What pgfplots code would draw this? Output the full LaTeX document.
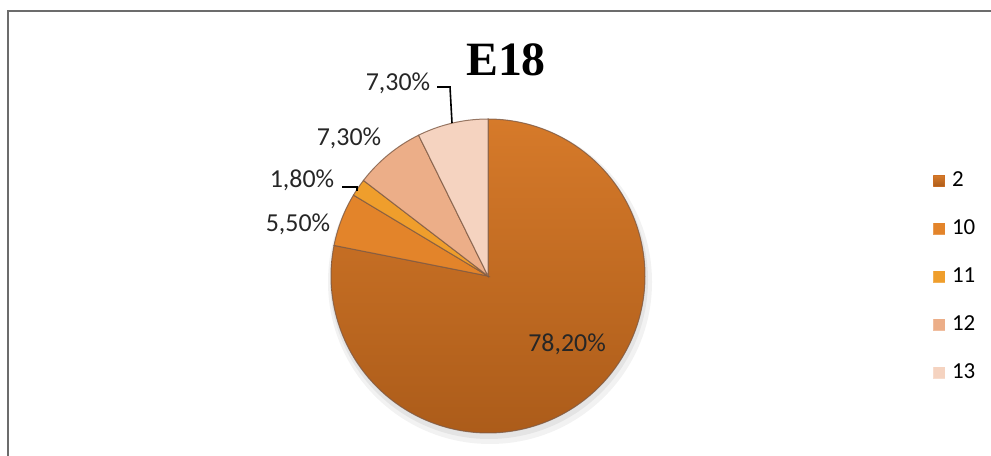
\documentclass[border=0pt]{standalone}
\usepackage{pgfplots}
\pgfplotsset{compat=1.18}
\usepackage{fontspec}
\setmainfont{Carlito}
\newfontfamily\titlefont{Liberation Serif}
\definecolor{cA}{HTML}{CB6D22}
\definecolor{cAtop}{HTML}{D67A2A}
\definecolor{cAbot}{HTML}{AC5C1A}
\definecolor{cB}{HTML}{E3842A}
\definecolor{cC}{HTML}{EF9E2C}
\definecolor{cD}{HTML}{ECAE88}
\definecolor{cE}{HTML}{F5D3C0}
\definecolor{edge}{HTML}{7E5A44}
\tikzset{lbl/.style={text=black!85, inner sep=0pt, font=\fontsize{26}{30}\selectfont}}
\begin{document}
\begin{tikzpicture}
\useasboundingbox (0,0) rectangle (991bp,456bp);
\begin{axis}[
  width=991bp, height=456bp, scale only axis,
  xmin=0, xmax=991, ymin=0, ymax=456,
  hide axis, clip=false,
  legend style={at={(axis cs:933,286)}, anchor=north west, draw=none, fill=none,
    inner sep=0pt, outer sep=0pt, row sep=26bp, column sep=7bp,
    font=\fontsize{23}{27}\selectfont,
    nodes={inner sep=0pt, anchor=west, text height=17bp, text depth=5bp}},
  legend cell align=left,
]
% frame
\draw[gray!85!black, line width=2bp] (axis cs:8,-10) -- (axis cs:8,445) -- (axis cs:1000,445);
% shadow
\fill[black, opacity=0.05] (axis cs:490,174) circle[radius=162bp];
\fill[black, opacity=0.06] (axis cs:489,176) circle[radius=159bp];
% slices (values in percent: 78.2, 5.5, 1.8, 7.3, 7.3; clockwise from top)
\addplot[top color=cAtop, bottom color=cAbot, draw=edge, draw opacity=0.8, line width=1bp,
  domain=0:78.2, samples=160, variable=\t,
  legend image code/.code={\fill[cA] (0bp,-5.5bp) rectangle (11bp,5.5bp);}]
  ({488+157*sin(\t*3.6/1.001)}, {180+157*cos(\t*3.6/1.001)}) -- (axis cs:488,180) -- cycle;
\addlegendentry{2}
\addplot[fill=cB, draw=edge, draw opacity=0.8, line width=1bp,
  domain=78.2:83.7, samples=20, variable=\t,
  legend image code/.code={\fill[cB] (0bp,-5.5bp) rectangle (11bp,5.5bp);}]
  ({488+157*sin(\t*3.6/1.001)}, {180+157*cos(\t*3.6/1.001)}) -- (axis cs:488,180) -- cycle;
\addlegendentry{10}
\addplot[fill=cC, draw=edge, draw opacity=0.8, line width=1bp,
  domain=83.7:85.5, samples=8, variable=\t,
  legend image code/.code={\fill[cC] (0bp,-5.5bp) rectangle (11bp,5.5bp);}]
  ({488+157*sin(\t*3.6/1.001)}, {180+157*cos(\t*3.6/1.001)}) -- (axis cs:488,180) -- cycle;
\addlegendentry{11}
\addplot[fill=cD, draw=edge, draw opacity=0.8, line width=1bp,
  domain=85.5:92.8, samples=24, variable=\t,
  legend image code/.code={\fill[cD] (0bp,-5.5bp) rectangle (11bp,5.5bp);}]
  ({488+157*sin(\t*3.6/1.001)}, {180+157*cos(\t*3.6/1.001)}) -- (axis cs:488,180) -- cycle;
\addlegendentry{12}
\addplot[fill=cE, draw=edge, draw opacity=0.8, line width=1bp,
  domain=92.8:100.1, samples=24, variable=\t,
  legend image code/.code={\fill[cE] (0bp,-5.5bp) rectangle (11bp,5.5bp);}]
  ({488+157*sin(\t*3.6/1.001)}, {180+157*cos(\t*3.6/1.001)}) -- (axis cs:488,180) -- cycle;
\addlegendentry{13}
% leader lines
\draw[black, line width=1.6bp] (axis cs:342,269) -- (axis cs:357,269) -- (axis cs:357,265);
\draw[black, line width=1.6bp] (axis cs:437,369) -- (axis cs:450,369) -- (axis cs:452,333);
% data labels
\node[lbl] at (axis cs:567,112) {78,20\%};
\node[lbl] at (axis cs:298,232) {5,50\%};
\node[lbl] at (axis cs:302,276) {1,80\%};
\node[lbl] at (axis cs:349,318) {7,30\%};
\node[lbl] at (axis cs:398,373) {7,30\%};
% title
\node[font=\titlefont\bfseries\fontsize{48}{52}\selectfont] at (axis cs:506,396) {E18};
\end{axis}
\end{tikzpicture}
\end{document}
